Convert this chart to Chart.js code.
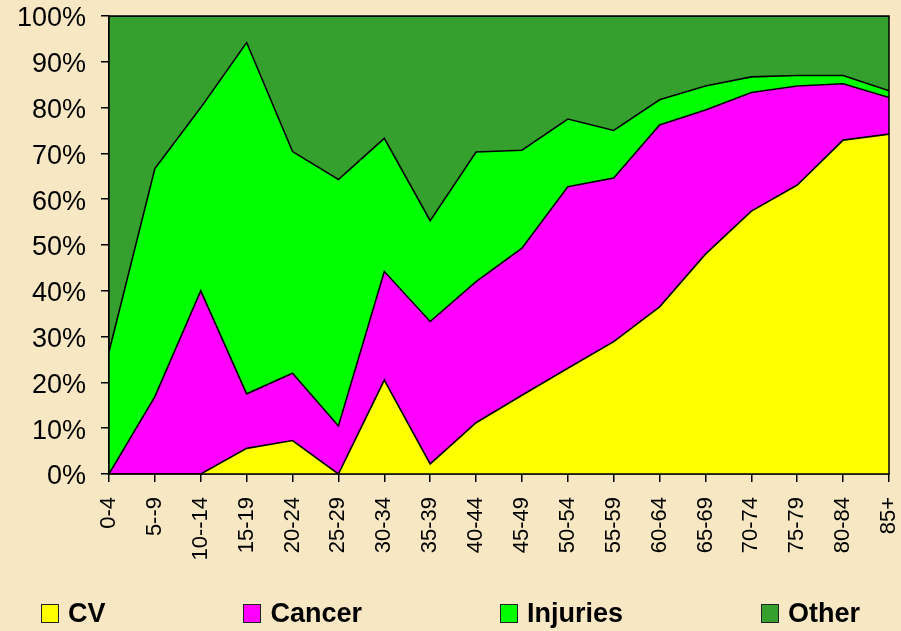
<!DOCTYPE html>
<html>
<head>
<meta charset="utf-8">
<script src="https://cdn.jsdelivr.net/npm/chart.js@4"></script>
<style>
    body { margin: 0; background: #F7E7C3; }
    #wrap { position: relative; width: 901px; height: 631px; }
    #legend {
        position: absolute; left: 0; top: 603px; width: 901px;
        display: flex; justify-content: center; gap: 138px;
        font-family: "Liberation Sans", Arial, sans-serif; font-weight: bold; font-size: 27px;
    }
    #legend .item { display: flex; align-items: center; height: 21px; }
    #legend .box { width: 18px; height: 19px; border: 1px solid #222; margin-right: 9px; box-sizing: border-box; }
</style>
</head>
<body>
<div id="wrap">
    <canvas id="mortChart" width="901" height="631"></canvas>
    <div id="legend"></div>
</div>
<script>
const ageGroups = ["0-4", "5--9", "10--14", "15-19", "20-24", "25-29", "30-34", "35-39", "40-44",
    "45-49", "50-54", "55-59", "60-64", "65-69", "70-74", "75-79", "80-84", "85+"];

// share of deaths by cause, percent
const cv = [0, 0, 0, 5.6, 7.3, 0, 20.5, 2.2, 11.2, 17.2, 23.1, 28.9, 36.5, 48.0, 57.4, 63.1, 72.9, 74.2];
const cancer = [0, 16.9, 40.0, 11.9, 14.7, 10.5, 23.7, 31.1, 30.8, 32.1, 39.6, 35.7, 39.7, 31.5, 25.9, 21.6, 12.3, 8.0];
const injuries = [26.7, 49.8, 40.0, 76.7, 48.4, 53.8, 29.1, 22.0, 28.3, 21.4, 14.8, 10.4, 5.5, 5.2, 3.4, 2.3, 1.8, 1.5];
const other = [73.3, 33.3, 20.0, 5.8, 29.6, 35.7, 26.7, 44.7, 29.7, 29.3, 22.5, 25.0, 18.3, 15.3, 13.3, 13.0, 13.0, 16.3];

const seriesNames = ["CV", "Cancer", "Injuries", "Other"];
const seriesColors = ["#FFFF00", "#FF00FF", "#00FF00", "#35A02E"];
const yTicks = [0, 10, 20, 30, 40, 50, 60, 70, 80, 90, 100];

const seriesData = [cv, cancer, injuries, other];
const datasets = [];
for (let i = 0; i < seriesData.length; i++) {
    datasets.push({
        label: seriesNames[i],
        data: seriesData[i],
        backgroundColor: seriesColors[i],
        borderColor: '#000',
        borderWidth: 1.6,
        pointRadius: 0,
        tension: 0,
        fill: i === 0 ? 'origin' : '-1'
    });
}

const plotBorder = {
    id: 'plotBorder',
    afterDatasetsDraw(chart) {
        const a = chart.chartArea;
        const ctx = chart.ctx;
        ctx.save();
        ctx.strokeStyle = '#000';
        ctx.lineWidth = 1.5;
        ctx.strokeRect(a.left, a.top, a.right - a.left, a.bottom - a.top);
        ctx.restore();
    }
};

const config = {
    type: 'line',
    data: { labels: ageGroups, datasets: datasets },
    options: {
        responsive: false,
        animation: false,
        layout: { padding: { top: 16, right: 12, left: 0, bottom: 0 } },
        plugins: { legend: { display: false }, tooltip: { enabled: false } },
        scales: {
            x: {
                offset: false,
                grid: { drawOnChartArea: false, tickLength: 8, color: '#000', lineWidth: 1.5 },
                border: { color: '#000', width: 1.5 },
                ticks: {
                    autoSkip: false, maxRotation: 90, minRotation: 90, padding: 15,
                    color: '#000',
                    font: { family: 'Liberation Sans, Arial', size: 22 }
                },
                afterFit: (scale) => {
                    scale.height = 157;
                    scale.paddingLeft = 0;
                    scale.paddingRight = 0;
                }
            },
            y: {
                stacked: true,
                min: 0,
                max: 100,
                afterBuildTicks: (scale) => { scale.ticks = yTicks.map(v => ({ value: v })); },
                grid: { drawOnChartArea: false, tickLength: 8, color: '#000', lineWidth: 1.5 },
                border: { color: '#000', width: 1.5 },
                ticks: {
                    padding: 15,
                    labelOffset: 3,
                    color: '#000',
                    font: { family: 'Liberation Sans, Arial', size: 27 },
                    callback: (v) => v + '%'
                },
                afterFit: (scale) => {
                    scale.width = 109;
                    scale.paddingTop = 0;
                    scale.paddingBottom = 0;
                }
            }
        }
    },
    plugins: [plotBorder]
};

const ctx = document.getElementById('mortChart');
const mortChart = new Chart(ctx, config);

const legend = document.getElementById('legend');
for (let i = 0; i < seriesNames.length; i++) {
    const item = document.createElement('div');
    item.className = 'item';
    item.innerHTML = `<span class="box" style="background:${seriesColors[i]}"></span><span>${seriesNames[i]}</span>`;
    legend.append(item);
}
</script>
</body>
</html>
